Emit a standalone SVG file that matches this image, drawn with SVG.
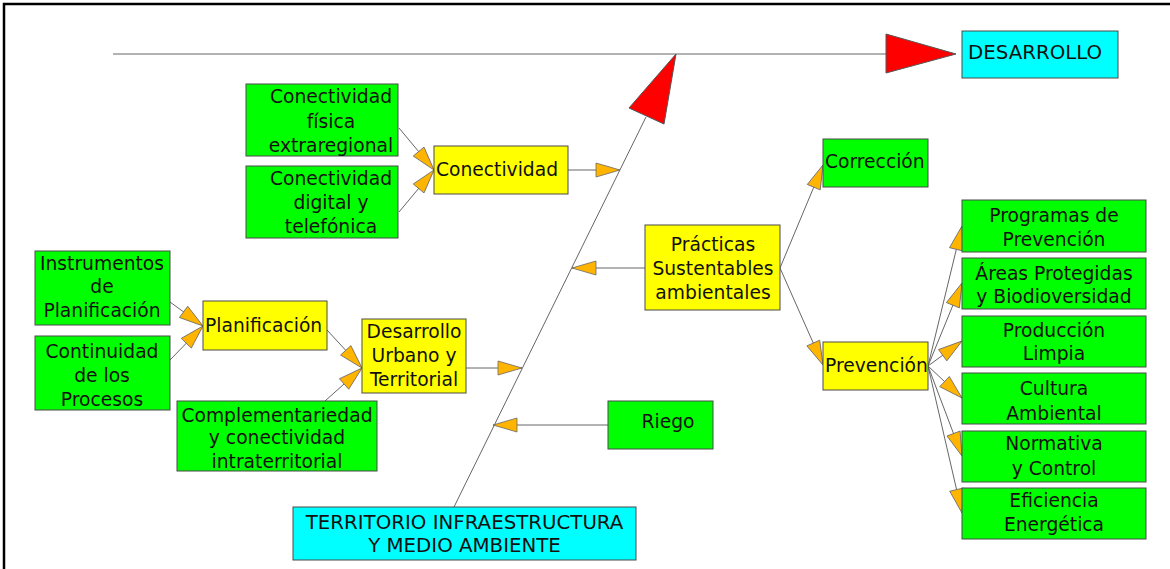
<svg xmlns="http://www.w3.org/2000/svg" width="1170" height="569" viewBox="0 0 1170 569">
<style>
text{font-family:"DejaVu Sans",Verdana,sans-serif;font-size:18.7px;fill:#111}
.c{text-anchor:middle}
.caps{font-size:19.8px}
.g{fill:#00ff00;stroke:#4a4a4a;stroke-width:1}
.y{fill:#ffff00;stroke:#4a4a4a;stroke-width:1}
.b{fill:#00ffff;stroke:#4a4a4a;stroke-width:1}
.ln{stroke:#666;stroke-width:1;fill:none}
.ar{marker-end:url(#ah)}
.red{fill:#ff0000;stroke:#555;stroke-width:1}
</style>
<defs>
<marker id="ah" viewBox="-26 -8 27 16" refX="0" refY="0" markerWidth="27" markerHeight="16" markerUnits="userSpaceOnUse" orient="auto">
<path d="M0,0 L-24,-7 L-24,7 Z" fill="#ffb400" stroke="#6a6a6a" stroke-width="0.8"/>
</marker>
</defs>
<rect width="1170" height="569" fill="#fff"/>
<path d="M4,569 V4 H1170" fill="none" stroke="#000" stroke-width="2.5"/>

<g id="connectors">
<line class="ln" x1="113" y1="54" x2="886" y2="54"/>
<polygon class="red" points="886,34 956,54 886,73"/>
<line class="ln" x1="454" y1="507" x2="646" y2="117"/>
<polygon class="red" points="676,54 629,108 664,124"/>
<line class="ln ar" x1="399" y1="128" x2="434" y2="170"/>
<line class="ln ar" x1="399" y1="212" x2="434" y2="170"/>
<line class="ln ar" x1="568" y1="170" x2="620" y2="170"/>
<line class="ln ar" x1="170" y1="302" x2="203" y2="326"/>
<line class="ln ar" x1="170" y1="360" x2="203" y2="326"/>
<line class="ln ar" x1="327" y1="330" x2="362" y2="368"/>
<line class="ln ar" x1="325" y1="401" x2="362" y2="368"/>
<line class="ln ar" x1="466" y1="368" x2="522" y2="368"/>
<line class="ln ar" x1="608" y1="425" x2="493" y2="425"/>
<line class="ln ar" x1="645" y1="268" x2="572" y2="268"/>
<line class="ln ar" x1="780" y1="268" x2="823" y2="165"/>
<line class="ln ar" x1="780" y1="268" x2="823" y2="365"/>
<line class="ln ar" x1="928" y1="366" x2="962" y2="226"/>
<line class="ln ar" x1="928" y1="366" x2="962" y2="283"/>
<line class="ln ar" x1="928" y1="366" x2="962" y2="341"/>
<line class="ln ar" x1="928" y1="366" x2="962" y2="398"/>
<line class="ln ar" x1="928" y1="366" x2="962" y2="456"/>
<line class="ln ar" x1="928" y1="366" x2="962" y2="513"/>
</g>

<g id="desarrollo"><rect class="b" x="962" y="31" width="156" height="47"/><text class="caps" x="968" y="59">DESARROLLO</text></g>

<g id="con-fisica"><rect class="g" x="246" y="84" width="152" height="72"/>
<text class="c" x="331" y="103">Conectividad</text><text class="c" x="331" y="128">física</text><text class="c" x="331" y="152">extraregional</text></g>

<g id="con-digital"><rect class="g" x="246" y="166" width="152" height="72"/>
<text class="c" x="331" y="185">Conectividad</text><text class="c" x="331" y="209">digital y</text><text class="c" x="331" y="233">telefónica</text></g>

<g id="conectividad"><rect class="y" x="434" y="146" width="134" height="48"/><text x="436" y="176">Conectividad</text></g>

<g id="instrumentos"><rect class="g" x="35" y="251" width="135" height="74"/>
<text class="c" x="102" y="270">Instrumentos</text><text class="c" x="102" y="293">de</text><text class="c" x="102" y="317">Planificación</text></g>

<g id="continuidad"><rect class="g" x="35" y="336" width="135" height="74"/>
<text class="c" x="102" y="358">Continuidad</text><text class="c" x="102" y="382">de los</text><text class="c" x="102" y="406">Procesos</text></g>

<g id="planificacion"><rect class="y" x="203" y="301" width="124" height="49"/><text x="205" y="332">Planificación</text></g>

<g id="desarrollo-urbano"><rect class="y" x="362" y="319" width="104" height="74"/>
<text class="c" x="414" y="338">Desarrollo</text><text class="c" x="414" y="362">Urbano y</text><text class="c" x="414" y="386">Territorial</text></g>

<g id="complementariedad"><rect class="g" x="177" y="401" width="200" height="70"/>
<text class="c" x="277" y="422">Complementariedad</text><text class="c" x="277" y="444">y conectividad</text><text class="c" x="277" y="468">intraterritorial</text></g>

<g id="territorio"><rect class="b" x="293" y="507" width="343" height="53"/>
<text class="c caps" x="464.5" y="529">TERRITORIO INFRAESTRUCTURA</text><text class="c caps" x="464.5" y="552">Y MEDIO AMBIENTE</text></g>

<g id="riego"><rect class="g" x="608" y="401" width="105" height="48"/><text class="c" x="668" y="428">Riego</text></g>

<g id="practicas"><rect class="y" x="645" y="225" width="135" height="85"/>
<text class="c" x="713" y="251">Prácticas</text><text class="c" x="713" y="275">Sustentables</text><text class="c" x="713" y="299">ambientales</text></g>

<g id="correccion"><rect class="g" x="823" y="139" width="105" height="48"/><text x="825" y="168">Corrección</text></g>

<g id="prevencion"><rect class="y" x="823" y="342" width="105" height="48"/><text x="825" y="372">Prevención</text></g>

<g id="programas"><rect class="g" x="962" y="200" width="184" height="52"/>
<text class="c" x="1054" y="222">Programas de</text><text class="c" x="1054" y="246">Prevención</text></g>

<g id="areas"><rect class="g" x="962" y="258" width="184" height="51"/>
<text class="c" x="1054" y="280">Áreas Protegidas</text><text class="c" x="1054" y="303">y Biodioversidad</text></g>

<g id="produccion"><rect class="g" x="962" y="316" width="184" height="51"/>
<text class="c" x="1054" y="337">Producción</text><text class="c" x="1054" y="360">Limpia</text></g>

<g id="cultura"><rect class="g" x="962" y="373" width="184" height="51"/>
<text class="c" x="1054" y="395">Cultura</text><text class="c" x="1054" y="420">Ambiental</text></g>

<g id="normativa"><rect class="g" x="962" y="431" width="184" height="51"/>
<text class="c" x="1054" y="450">Normativa</text><text class="c" x="1054" y="475">y Control</text></g>

<g id="eficiencia"><rect class="g" x="962" y="488" width="184" height="51"/>
<text class="c" x="1054" y="507">Eficiencia</text><text class="c" x="1054" y="531">Energética</text></g>
</svg>
